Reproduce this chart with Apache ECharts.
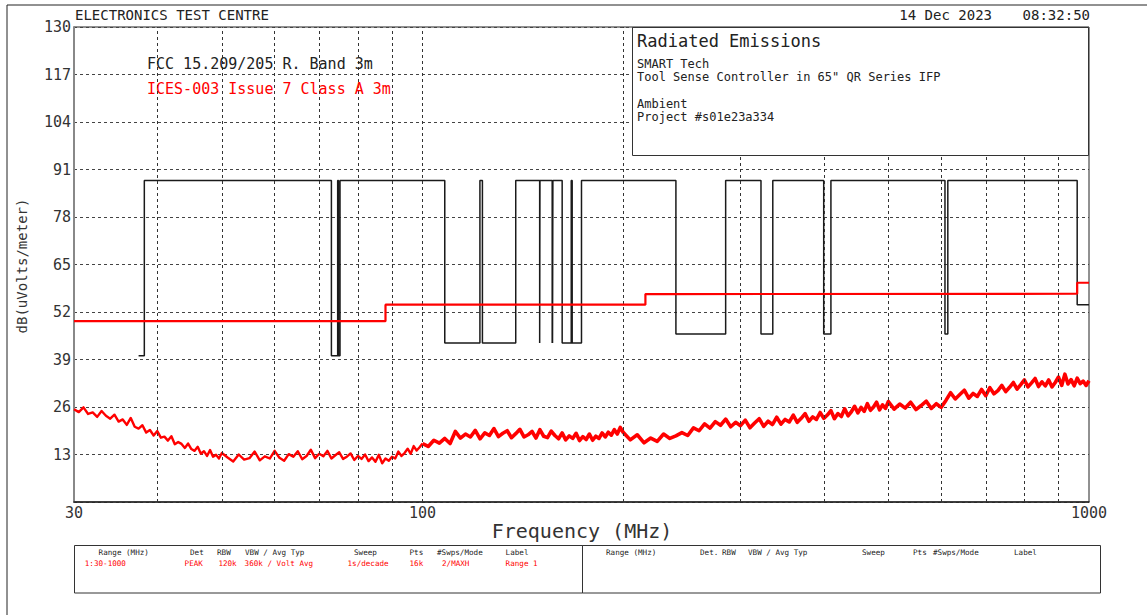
<!DOCTYPE html>
<html><head><meta charset="utf-8">
<script src="https://cdn.jsdelivr.net/npm/echarts@6/dist/echarts.min.js"></script>
<style>html,body{margin:0;padding:0;background:#fff}#c{width:1147px;height:615px}</style>
</head><body><div id="c"></div>
<script>
// ---------- texts ----------
const headerTitle = 'ELECTRONICS TEST CENTRE';
const headerDate = '14 Dec 2023';
const headerTime = '08:32:50';
const infoTitle = 'Radiated Emissions';
const infoLines = ['SMART Tech', 'Tool Sense Controller in 65" QR Series IFP', '', 'Ambient', 'Project #s01e23a334'];
const seriesNames = ['FCC 15.209/205 R. Band 3m', 'ICES-003 Issue 7 Class A 3m'];
const xAxisTitle = 'Frequency (MHz)';
const yAxisTitle = 'dB(uVolts/meter)';
const footHeadLeft = ['Range (MHz)', 'Det', 'RBW', 'VBW / Avg Typ', 'Sweep', 'Pts', '#Swps/Mode', 'Label'];
const footRowLeft = ['1:30-1000', 'PEAK', '120k', '360k / Volt Avg', '1s/decade', '16k', '2/MAXH', 'Range 1'];
const footHeadRight = ['Range (MHz)', 'Det.', 'RBW', 'VBW / Avg Typ', 'Sweep', 'Pts', '#Swps/Mode', 'Label'];

// ---------- axes ----------
const xMin = 30, xMax = 1000;
const yMin = 0, yMax = 130, yStep = 13;
const gridFreqs = [40, 50, 60, 70, 80, 90, 100, 200, 300, 400, 500, 600, 700, 800, 900];

// ---------- limit lines (step: value holds until next point) ----------
const fccLimit = [
  [37.5, 40], [38.25, 88], [73, 40], [74.6, 88], [74.8, 40], [75.2, 88],
  [108, 43.5], [121.94, 88], [123, 43.5], [138, 88], [149.9, 43.5], [150.05, 88],
  [156.52475, 43.5], [156.52525, 88], [156.7, 43.5], [156.9, 88],
  [162.0125, 43.5], [167.17, 88], [167.72, 43.5], [173.2, 88],
  [240, 46], [285, 88], [322, 46], [335.4, 88], [399.9, 46], [410, 88],
  [608, 46], [614, 88], [960, 54], [1000, 54]
];
const icesLimit = [[30, 49.5], [88, 54], [216, 56.9], [230, 57.0], [960, 60], [1000, 60]];

const traceLow = [
  [30,25.4],[30.5,24.6],[31,25.9],[31.5,24.1],[32,24.5],[32.5,23.3],[33,24.9],[33.5,23.6],[34,22.8],[34.5,23.9],
  [35,22.0],[35.5,22.6],[36,21.1],[36.5,23.0],[37,20.6],[37.5,20.1],[38,21.0],[38.5,19.0],[39,19.7],[39.5,18.2],
  [40,19.4],[40.5,17.6],[41,17.9],[41.5,16.8],[42,18.0],[42.5,15.8],[43,16.4],[43.5,15.9],[44,14.8],[44.5,16.0],
  [45,14.5],[45.5,14.0],[46,15.1],[46.5,13.2],[47,13.9],[47.5,12.6],[48,14.2],[48.5,12.4],[49,12.9],[49.5,11.9],[50,13.4]
];
const traceMid = [
  [51,12.2],[52,11.1],[53,13.0],[54,11.6],[55,12.0],[56,13.8],[57,11.4],[58,12.5],[59,11.9],[60,14.0],
  [61,12.1],[62,11.3],[63,13.1],[64,12.4],[65,13.9],[66,11.7],[67,12.6],[68,14.3],[69,12.0],[70,13.2],
  [71,12.5],[72,14.0],[73,11.9],[74,12.8],[75,13.6],[76,11.8],[77,12.4],[78,13.3],[79,11.5],[80,12.6],
  [81,11.8],[82,13.0],[83,11.2],[84,12.2],[85,11.0],[86,12.9],[87,10.6],[88,11.9],[89,11.3],[90,12.4],
  [91,11.9],[92,13.8],[93,12.6],[94,13.4],[95,14.6],[96,13.2],[97,15.3],[98,14.1],[99,15.0],[100,16.0]
];
const traceVhf = [
  [102,15.2],[104,16.9],[106,16.1],[108,17.4],[110,16.0],[112,19.3],[114,17.5],[116,18.6],[118,17.8],[120,19.6],
  [122,17.3],[124,18.9],[126,18.2],[128,20.1],[130,17.9],[132,18.8],[134,19.5],[136,17.6],[138,18.7],[140,19.9],
  [142,17.8],[144,18.4],[146,19.3],[148,17.5],[150,19.8],[152,18.0],[154,17.6],[156,19.4],[158,18.2],[160,17.3],
  [162,18.9],[164,17.0],[166,18.1],[168,17.4],[170,18.8],[172,16.8],[174,17.9],[176,17.1],[178,18.6],[180,16.9],
  [182,18.0],[184,17.4],[186,18.9],[188,17.8],[190,19.1],[192,18.3],[194,19.8],[196,18.6],[198,20.4],[200,19.1]
];
const traceUhfA = [
  [205,17.0],[210,18.4],[215,16.2],[220,17.5],[225,16.6],[230,18.6],[235,17.4],[240,18.1],[245,19.0],[250,18.2],
  [255,20.3],[260,19.5],[265,21.4],[270,20.2],[275,22.0],[280,21.0],[285,22.7],[290,20.6],[295,21.8],[300,20.9],
  [305,22.4],[310,20.3],[315,21.6],[320,22.8],[325,20.7],[330,22.1],[335,21.2],[340,23.2],[345,21.3],[350,22.6],
  [355,21.9],[360,23.8],[365,21.8],[370,22.9],[375,24.2],[380,22.1],[385,23.3],[390,22.6],[395,24.5],[400,22.9],
  [405,23.8],[410,25.0],[415,22.8],[420,24.2],[425,23.4],[430,25.5],[435,23.6],[440,24.7],[445,26.2],[450,24.4],
  [455,25.9],[460,24.8],[465,26.9],[470,25.1],[475,26.0],[480,27.3],[485,25.2],[490,26.6],[495,25.6],[500,27.5]
];
const traceUhfB = [
  [510,25.4],[520,26.8],[530,25.7],[540,27.3],[550,25.3],[560,26.4],[570,27.6],[580,25.6],[590,26.9],[600,25.9],
  [610,27.8],[620,29.9],[630,28.2],[640,29.4],[650,30.6],[660,28.4],[670,29.7],[680,28.9],[690,30.8],[700,29.1],
  [710,31.3],[720,29.6],[730,30.5],[740,31.9],[750,30.2],[760,31.4],[770,32.7],[780,30.9],[790,32.1],[800,33.4],
  [810,31.5],[820,32.6],[830,33.8],[840,31.6],[850,32.9],[860,31.8],[870,33.4],[880,31.5],[890,32.7],[900,34.2],
  [910,31.9],[920,35.0],[930,32.3],[940,33.5],[950,31.8],[960,33.9],[970,32.4],[980,33.1],[990,31.9],[1000,33.2]
];
// lower band (30-100 MHz) drawn thinner, upper band (100-1000 MHz) wider, as in the plot
const ambientLowBand = [].concat(traceLow, traceMid);
const ambientHighBand = [].concat(traceMid.slice(-1), traceVhf, traceUhfA, traceUhfB);

// ---------- layout / style ----------
const MONO = '"DejaVu Sans Mono", "Liberation Mono", monospace';
const G = { left: 74, top: 27, right: 1089, bottom: 502 };
const footLeftHeadX = [98.6, 190, 217, 245, 354, 409.5, 437, 505.6];
const footLeftRowX = [84.8, 184.6, 218.4, 244.6, 347.5, 409.5, 442, 505.6];
const footRightHeadX = [606, 700, 722, 748, 862, 913, 933, 1014];

function txt(text, x, y, size, fill, align) {
  return {
    type: 'text', z: 120, silent: true,
    style: { text: text, x: x, y: y, fill: fill || '#222', font: size + 'px ' + MONO,
             align: align || 'left', verticalAlign: 'middle' }
  };
}

const graphics = [];
// outer frame
graphics.push({ type: 'rect', z: 110, silent: true, shape: { x: 7, y: 5, width: 1200, height: 700 },
  style: { fill: 'none', stroke: '#222', lineWidth: 1 } });
// header
graphics.push(txt(headerTitle, 75, 15, 14, '#222'));
graphics.push(txt(headerDate, 992, 15, 14, '#222', 'right'));
graphics.push(txt(headerTime, 1090, 15, 14, '#222', 'right'));
// info box
graphics.push({ type: 'rect', z: 115, silent: true, shape: { x: 632.5, y: 27.5, width: 456, height: 128 },
  style: { fill: '#fff', stroke: '#333', lineWidth: 1 } });
graphics.push(txt(infoTitle, 637, 41, 17, '#222'));
infoLines.forEach(function (s, i) { if (s) graphics.push(txt(s, 637, 64 + i * 13.2, 12, '#222')); });
// legend texts
graphics.push(txt(seriesNames[0], 147, 64, 15, '#222'));
graphics.push(txt(seriesNames[1], 147, 89, 15, '#ff0000'));
// axis titles
graphics.push(txt(xAxisTitle, 582, 531, 20, '#333', 'center'));
graphics.push({
  type: 'text', z: 120, silent: true, x: 22, y: 266, rotation: Math.PI / 2,
  style: { text: yAxisTitle, x: 0, y: 0, fill: '#333', font: '14px ' + MONO, align: 'center', verticalAlign: 'middle' }
});
// footer boxes
graphics.push({ type: 'rect', z: 110, silent: true, shape: { x: 74.5, y: 545.5, width: 508, height: 47.5 },
  style: { fill: 'none', stroke: '#333', lineWidth: 1 } });
graphics.push({ type: 'rect', z: 110, silent: true, shape: { x: 582.5, y: 545.5, width: 518, height: 47.5 },
  style: { fill: 'none', stroke: '#333', lineWidth: 1 } });
footHeadLeft.forEach(function (s, i) { graphics.push(txt(s, footLeftHeadX[i], 552, 7.6, '#222')); });
footRowLeft.forEach(function (s, i) { graphics.push(txt(s, footLeftRowX[i], 563, 7.6, '#ff0000')); });
footHeadRight.forEach(function (s, i) { graphics.push(txt(s, footRightHeadX[i], 552, 7.6, '#222')); });

const chart = echarts.init(document.getElementById('c'), null, { renderer: 'svg' });
chart.setOption({
  animation: false,
  backgroundColor: '#fff',
  grid: { left: G.left, top: G.top, width: G.right - G.left, height: G.bottom - G.top,
          show: true, borderColor: '#222', borderWidth: 1, backgroundColor: 'transparent' },
  xAxis: {
    type: 'log', logBase: 10, min: xMin, max: xMax,
    axisLine: { show: true, lineStyle: { color: '#222', width: 1.5 } },
    axisTick: { show: false },
    splitLine: { show: false },
    axisLabel: { show: true, color: '#333', fontFamily: MONO, fontSize: 15, margin: 3,
                 showMinLabel: true, showMaxLabel: true,
                 formatter: function (v) { return String(Math.round(v)); } }
  },
  yAxis: {
    type: 'value', min: yMin, max: yMax, interval: yStep,
    axisLine: { show: true, lineStyle: { color: '#888', width: 2 } },
    axisTick: { show: false },
    splitLine: { show: true, lineStyle: { color: '#444', type: [3, 3], width: 1 } },
    axisLabel: { color: '#333', fontFamily: MONO, fontSize: 15, margin: 3, showMinLabel: false }
  },
  graphic: graphics,
  series: [
    { name: 'grid', type: 'line', data: [], z: 1, silent: true,
      markLine: { silent: true, symbol: ['none', 'none'], label: { show: false },
        lineStyle: { color: '#333', type: [3, 3], width: 1 }, emphasis: { disabled: true },
        data: gridFreqs.map(function (f) { return { xAxis: f }; }) } },
    { name: 'Ambient', type: 'line', data: ambientLowBand, showSymbol: false, symbol: 'none', z: 3,
      lineStyle: { color: '#ff0000', width: 2.4, join: 'round' } },
    { name: 'Ambient ', type: 'line', data: ambientHighBand, showSymbol: false, symbol: 'none', z: 3,
      lineStyle: { color: '#ff0000', width: 3.6, join: 'round' } },
    { name: seriesNames[0], type: 'line', step: 'end', data: fccLimit, symbol: 'none', z: 4,
      lineStyle: { color: '#1a1a1a', width: 1.5 } },
    { name: seriesNames[1], type: 'line', step: 'end', data: icesLimit, symbol: 'none', z: 5,
      lineStyle: { color: '#ff0000', width: 2.2 } }
  ]
});
</script></body></html>
